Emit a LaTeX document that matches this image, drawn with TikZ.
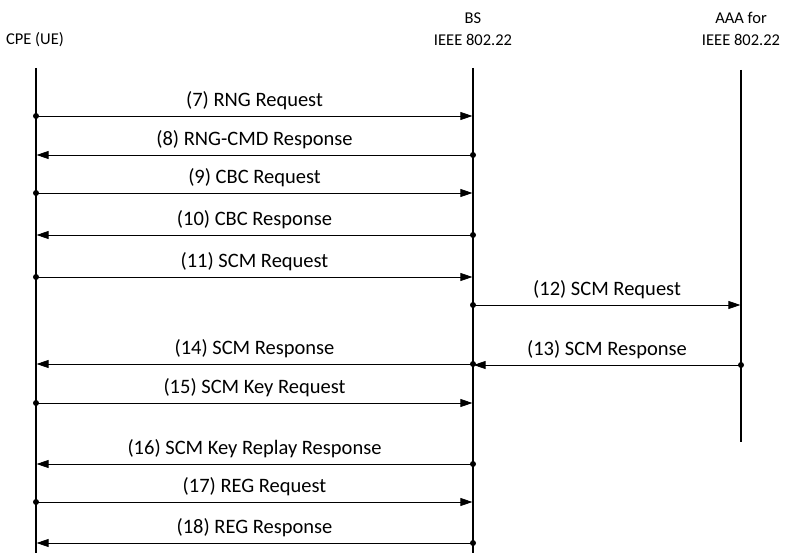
\documentclass[tikz,border=0pt]{standalone}
\usepackage{fontspec}
\setmainfont{Carlito}
\usetikzlibrary{arrows.meta}
\begin{document}
\begin{tikzpicture}[x=1pt,y=-1pt,
  lifeline/.style={line width=1.2pt},
  msg/.style={line width=0.8pt,-{Triangle[length=12pt,width=8pt]},
    shorten >=0.6pt},
  tail/.style={circle,fill,inner sep=0pt,minimum size=6pt},
  head/.style={font=\fontsize{16.5}{22}\selectfont,align=center},
  lbl/.style={font=\fontsize{20.5}{24}\selectfont,inner sep=0pt,anchor=base,yshift=9.5pt}]
\useasboundingbox (0,0) rectangle (786,553);

% actors
\node[head] (cpe) at (35,40) {CPE (UE)};
\node[head] (bs)  at (473,29) {BS\\IEEE 802.22};
\node[head] (aaa) at (741,29) {AAA for\\IEEE 802.22};

% lifelines
\coordinate (cpeT) at (36,68);  \coordinate (cpeB) at (36,553);
\coordinate (bsT)  at (473,68); \coordinate (bsB)  at (473,553);
\coordinate (aaaT) at (741,70); \coordinate (aaaB) at (741,442);
\draw[lifeline] (cpeT) -- (cpeB);
\draw[lifeline] (bsT) -- (bsB);
\draw[lifeline] (aaaT) -- (aaaB);

% message anchor points on each lifeline
\foreach \n/\y in {7/116,8/155,9/193,10/235,11/277,14/364,15/403,16/464,17/502,18/543}{
  \coordinate (c\n) at (36,\y);
  \coordinate (b\n) at (473,\y);
}
\coordinate (b12) at (473,305); \coordinate (a12) at (741,305);
\coordinate (b13) at (473,365); \coordinate (a13) at (741,365);

% CPE -> BS
\foreach \n/\t in {7/{(7) RNG Request},9/{(9) CBC Request},11/{(11) SCM Request},
                   15/{(15) SCM Key Request},17/{(17) REG Request}}{
  \draw[msg] (c\n) -- node[lbl] {\t} (b\n);
  \node[tail] at (c\n) {};
}
% BS -> CPE
\foreach \n/\t in {8/{(8) RNG-CMD Response},10/{(10) CBC Response},14/{(14) SCM Response},
                   16/{(16) SCM Key Replay Response},18/{(18) REG Response}}{
  \draw[msg] (b\n) -- node[lbl] {\t} (c\n);
  \node[tail] at (b\n) {};
}
% BS <-> AAA
\draw[msg] (b12) -- node[lbl] {(12) SCM Request} (a12);
\node[tail] at (b12) {};
\draw[msg] (a13) -- node[lbl] {(13) SCM Response} (b13);
\node[tail] at (a13) {};
\end{tikzpicture}
\end{document}
